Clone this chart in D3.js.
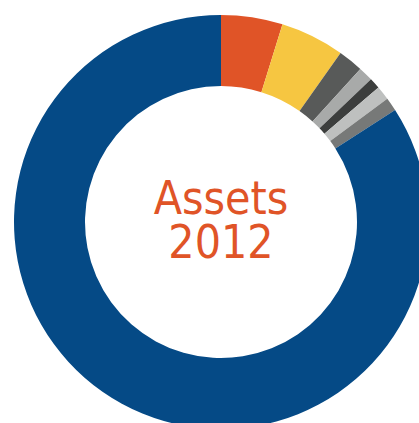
<!DOCTYPE html>
<html>
<head>
<meta charset="utf-8">
<script src="https://cdn.jsdelivr.net/npm/d3@7"></script>
<style>
  html, body { margin: 0; padding: 0; background: #fff; overflow: hidden; }
</style>
</head>
<body>
<div id="chart"></div>
<script>
// asset shares, clockwise from 12 o'clock (percent)
var categories = ["a", "b", "c", "d", "e", "f", "g", "h"];
var values = [4.8, 5.0, 1.95, 1.15, 0.85, 1.1, 1.05, 84.1];
var colors = ["#e05427", "#f6c641", "#585a59", "#a8aaa9", "#3c3e3d", "#bec0bf", "#777978", "#054a86"];
var titleLines = ["Assets", "2012"];

var w = 419, h = 423;
var cx = 221, cy = 222, outerR = 207, innerR = 136;

var svg = d3.select("#chart").append("svg")
  .attr("width", w)
  .attr("height", h);

var pie = d3.pie().sort(null).value((d) => d);
var arc = d3.arc().innerRadius(innerR).outerRadius(outerR);
var color = d3.scaleOrdinal().domain(categories).range(colors);

var g = svg.append("g").attr("transform", "translate(" + cx + "," + cy + ")");

g.selectAll("path")
  .data(pie(values))
  .enter()
  .append("path")
  .attr("d", arc)
  .attr("fill", (d, i) => color(categories[i]));

// centre label, one text block with two lines
var label = g.append("text")
  .attr("text-anchor", "middle")
  .attr("fill", "#e05427")
  .attr("font-size", 46)
  .attr("font-family", "'DejaVu Sans Condensed', 'DejaVu Sans', sans-serif");

label.selectAll("tspan")
  .data(titleLines)
  .enter()
  .append("tspan")
  .text((d) => d)
  .attr("x", 0)
  .attr("y", (d, i) => -8 + i * 44);
</script>
</body>
</html>
